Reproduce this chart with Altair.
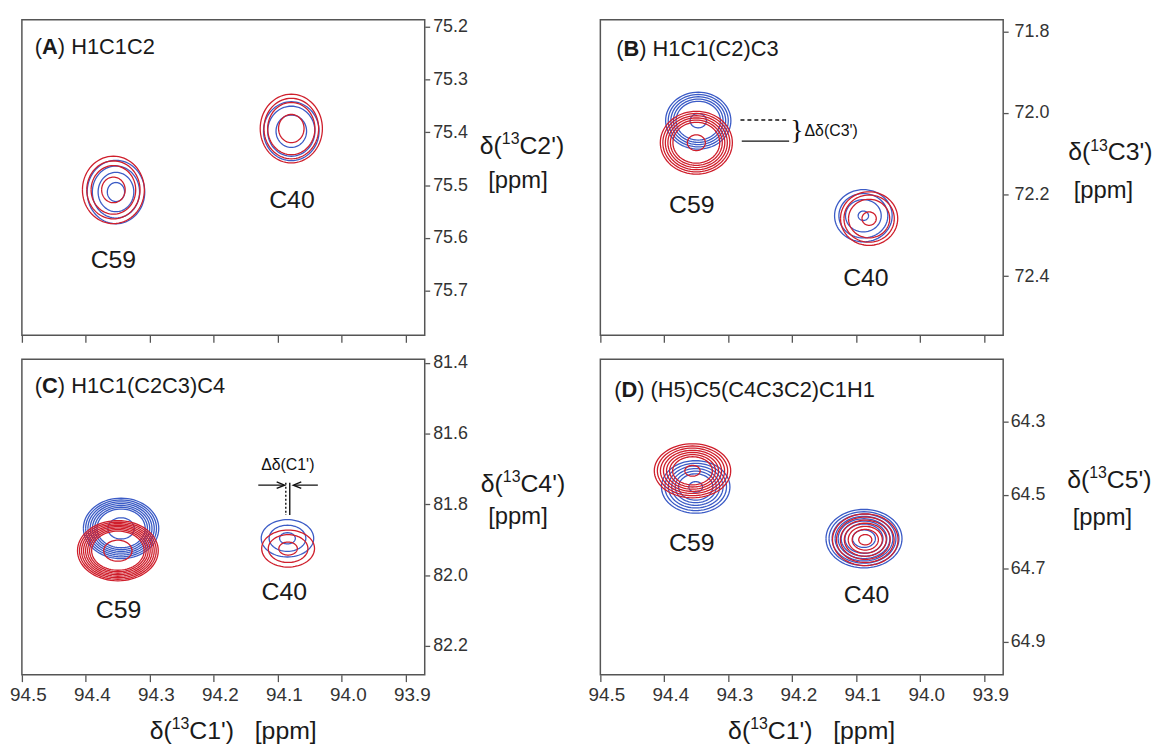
import numpy as np
import pandas as pd
import altair as alt

FONT = "Liberation Sans"
BLUE = "#3b5bc6"
RED = "#cf1f2c"
TXT = "#1a1a1a"
W, H = 406, 318

# ---------------- data ----------------
X_LO, X_HI = 93.8705, 94.5
X_TICKS = [94.5, 94.4, 94.3, 94.2, 94.1, 94.0, 93.9]

panel_ids = ["A", "B", "C", "D"]
panel_names = [") H1C1C2", ") H1C1(C2)C3", ") H1C1(C2C3)C4", ") (H5)C5(C4C3C2)C1H1"]
y_lo = [75.1874, 71.7718, 81.3896, 64.1295]
y_hi = [75.784, 72.5451, 82.2814, 64.990]
y_ticks = [
    [75.2, 75.3, 75.4, 75.5, 75.6, 75.7],
    [71.8, 72.0, 72.2, 72.4],
    [81.4, 81.6, 81.8, 82.0, 82.2],
    [64.3, 64.5, 64.7, 64.9],
]
# axis titles: text before superscript, superscript, text after
y_title_parts = [("δ(", "13", "C2')"), ("δ(", "13", "C3')"), ("δ(", "13", "C4')"), ("δ(", "13", "C5')")]
x_title_parts = ("δ(", "13", "C1')\u00a0\u00a0\u00a0[ppm]")

# contour peaks (ppm): centre, outer half-widths, relative contour levels
peak_panel = ["A"] * 4 + ["B"] * 4 + ["C"] * 4 + ["D"] * 4
peak_series = ["blue", "red"] * 8
peak_cx = [94.353, 94.357, 94.079, 94.079,
           94.347, 94.350, 94.089, 94.080,
           94.345, 94.350, 94.085, 94.084,
           94.351, 94.356, 94.088, 94.086]
peak_cy = [75.513, 75.509, 75.398, 75.393,
           72.019, 72.073, 72.252, 72.259,
           81.868, 81.931, 81.896, 81.925,
           64.478, 64.434, 64.619, 64.622]
peak_rx = [0.0450, 0.0484, 0.0434, 0.0486,
           0.0510, 0.0563, 0.0450, 0.0447,
           0.0589, 0.0631, 0.0410, 0.0413,
           0.0535, 0.0597, 0.0594, 0.0512]
peak_ry = [0.0600, 0.0638, 0.0557, 0.0650,
           0.0698, 0.0770, 0.0640, 0.0657,
           0.0855, 0.0850, 0.0528, 0.0524,
           0.0717, 0.0736, 0.0798, 0.0705]
peak_levels = [
    [1, .82, .62, .30], [1, .86, .72, .38], [1, .85, .55], [1, .88, .76, .41],
    [1, .92, .84, .76, .68, .25], [1, .93, .86, .79, .72, .65, .25],
    [1, .85, .62, .18], [1, .88, .72, .25],
    [1, .94, .88, .82, .76, .70, .64, .35], [1, .95, .90, .85, .80, .75, .70, .65, .35],
    [1, .70, .30], [1, .75, .35],
    [1, .90, .80, .70, .60, .50, .20], [1, .92, .84, .76, .68, .60, .52, .20],
    [1, .92, .84, .76, .68, .60, .50, .30], [1, .88, .76, .64, .52, .40, .20],
]

# peak labels
label_panel = ["A", "A", "B", "B", "C", "C", "D", "D"]
label_text = ["C59", "C40"] * 4
label_x = [94.357, 94.078, 94.357, 94.085, 94.349, 94.090, 94.357, 94.084]
label_y = [75.641, 75.529, 72.226, 72.404, 82.099, 82.049, 64.631, 64.774]

# annotation segments (ppm)
seg_panel = ["B", "B", "C", "C", "C", "C"]
seg_x1 = [94.281, 94.279, 94.1306, 94.0375, 94.0876, 94.0814]
seg_x2 = [94.205, 94.205, 94.0910, 94.0743, 94.0876, 94.0814]
seg_y1 = [72.0174, 72.0692, 81.7457, 81.7457, 81.7393, 81.7393]
seg_y2 = [72.0174, 72.0692, 81.7457, 81.7457, 81.8300, 81.8300]
seg_style = ["dashed", "solid", "solid", "solid", "dotted", "solid"]

# per-panel layout styles
title_xy = [(13, 27), (16, 29), (13, 27), (14, 31)]
ytitle_xy = [(98, 126, 94, 163), (108, 133, 101, 173), (99, 125, 94, 159), (107, 121, 100, 160)]
ylabel_pad = [3, 6, 3, 2]

# approximate advance widths (em) of Liberation Sans, for placing the superscripts
EM = {"δ": 0.556, "(": 0.333, ")": 0.333, "C": 0.722, "'": 0.191, "[": 0.278, "]": 0.278,
      "p": 0.556, "m": 0.833, "\u00a0": 0.278}


def tw(s, fs):
    return sum(EM.get(c, 0.556) for c in s) * fs


# ---------------- build tables ----------------
N = 72
rows = []
for i in range(len(peak_cx)):
    for j, lev in enumerate(peak_levels[i]):
        for k in range(N + 1):
            t = 2 * np.pi * k / N
            rows.append({
                "panel": peak_panel[i], "series": peak_series[i],
                "ring": f"{i}_{j}", "k": k,
                "x": peak_cx[i] + lev * peak_rx[i] * np.cos(t),
                "y": peak_cy[i] + lev * peak_ry[i] * np.sin(t),
            })
contours = pd.DataFrame(rows)
labels = pd.DataFrame({"panel": label_panel, "text": label_text, "x": label_x, "y": label_y})
segs = pd.DataFrame({"panel": seg_panel, "x": seg_x1, "x2": seg_x2, "y": seg_y1,
                     "y2": seg_y2, "style": seg_style})


def txt(s, x, y, fs, align="left", baseline="alphabetic", weight="normal"):
    return alt.Chart(pd.DataFrame({"t": [s]})).mark_text(
        font=FONT, fontSize=fs, fontWeight=weight, align=align, baseline=baseline, color=TXT
    ).encode(x=alt.value(x), y=alt.value(y), text="t:N")


def sup_text(parts, cx, cy, fs=25, sfs=16):
    pre, sup, post = parts
    total = tw(pre, fs) + tw(sup, sfs) + tw(post, fs)
    x0 = cx - total / 2
    base = cy + 0.35 * fs
    return [
        txt(pre, x0, base, fs),
        txt(sup, x0 + tw(pre, fs), base - 0.38 * fs, sfs),
        txt(post, x0 + tw(pre, fs) + tw(sup, sfs), base, fs),
    ]


def panel(i):
    pid = panel_ids[i]
    bottom = pid in ("C", "D")
    if bottom:
        xaxis = alt.Axis(values=X_TICKS, format=".1f", tickSize=7, labelFontSize=19,
                         labelPadding=4, labelOffset=6, labelFlush=False, title=None)
    else:
        xaxis = alt.Axis(values=X_TICKS, tickSize=7, labels=False, title=None)
    yaxis = alt.Axis(orient="right", values=y_ticks[i], format=".1f", tickSize=5,
                     labelFontSize=18, labelPadding=ylabel_pad[i], labelFlush=False, title=None)
    xscale = alt.Scale(domain=[X_LO, X_HI], reverse=True, nice=False, zero=False)
    yscale = alt.Scale(domain=[y_lo[i], y_hi[i]], reverse=True, nice=False, zero=False)

    def X(f="x"):
        return alt.X(f"{f}:Q", scale=xscale, axis=xaxis)

    def Y(f="y"):
        return alt.Y(f"{f}:Q", scale=yscale, axis=yaxis)

    cdf = contours[contours.panel == pid]
    cont = alt.Chart(cdf).mark_line(strokeWidth=1.3, clip=True).encode(
        x=X(), y=Y(),
        color=alt.Color("series:N", scale=alt.Scale(domain=["blue", "red"], range=[BLUE, RED]),
                        legend=None),
        detail="ring:N",
        order="k:Q",
    )
    lab = alt.Chart(labels[labels.panel == pid]).mark_text(
        font=FONT, fontSize=25, color=TXT, baseline="middle", align="center"
    ).encode(x=X(), y=Y(), text="text:N")
    tx, ty = title_xy[i]
    layers = [cont, lab,
              txt("(", tx, ty, 22, baseline="middle"),
              txt(pid, tx + 7.3, ty, 22, baseline="middle", weight="bold"),
              txt(panel_names[i], tx + 23.2, ty, 22, baseline="middle")]
    dx1, dy1, dx2, dy2 = ytitle_xy[i]
    layers += sup_text(y_title_parts[i], W + dx1, dy1)
    layers.append(txt("[ppm]", W + dx2, dy2, 24, align="center", baseline="middle"))
    if bottom:
        layers += sup_text(x_title_parts, W / 2 + 10, H + 56)

    sdf = segs[segs.panel == pid]
    if len(sdf):
        seg = alt.Chart(sdf).mark_rule(strokeWidth=1.4, color="#111").encode(
            x=X(), x2="x2:Q", y=Y(), y2="y2:Q",
            strokeDash=alt.StrokeDash("style:N", scale=alt.Scale(
                domain=["solid", "dashed", "dotted"], range=[[1, 0], [4, 3], [2, 2]]), legend=None),
        )
        layers.append(seg)
    if pid == "B":
        brace = alt.Chart(pd.DataFrame({"x": [94.193], "y": [72.0434], "t": ["}"]})).mark_text(
            font="Liberation Serif", fontSize=28, align="center", baseline="middle", color="#111"
        ).encode(x=X(), y=Y(), text="t:N")
        dtxt = alt.Chart(pd.DataFrame({"x": [94.181], "y": [72.0434], "t": ["Δδ(C3')"]})).mark_text(
            font=FONT, fontSize=16, align="left", baseline="middle", color="#111"
        ).encode(x=X(), y=Y(), text="t:N")
        layers += [brace, dtxt]
    if pid == "C":
        dtxt = alt.Chart(pd.DataFrame({"x": [94.0845], "y": [81.6877], "t": ["Δδ(C1')"]})).mark_text(
            font=FONT, fontSize=16, align="center", baseline="middle", color="#111"
        ).encode(x=X(), y=Y(), text="t:N")
        ah_r = alt.Chart(pd.DataFrame({"x": [94.0910], "y": [81.7457]})).mark_point(
            shape="M-1,-0.8L1,0L-1,0.8", size=64, filled=False, strokeWidth=1.4, color="#111",
            xOffset=-3, opacity=1
        ).encode(x=X(), y=Y())
        ah_l = alt.Chart(pd.DataFrame({"x": [94.0743], "y": [81.7457]})).mark_point(
            shape="M1,-0.8L-1,0L1,0.8", size=64, filled=False, strokeWidth=1.4, color="#111",
            xOffset=3, opacity=1
        ).encode(x=X(), y=Y())
        layers += [dtxt, ah_r, ah_l]

    return alt.layer(*layers).properties(width=W, height=H)


chart = alt.concat(
    panel(0), panel(1), panel(2), panel(3),
    columns=2,
    spacing={"row": 24, "column": 177},
    bounds="flush",
).properties(
    padding={"left": 0, "top": 5, "right": 0, "bottom": 0},
).configure_view(
    stroke="#555", strokeWidth=1.5
).configure_axis(
    labelFont=FONT, titleFont=FONT, domain=False, grid=False,
    tickColor="#555", tickWidth=1.3, labelColor="#333", titleColor=TXT,
)

chart.save("out.html", embed_options={"renderer": "svg", "actions": False})
